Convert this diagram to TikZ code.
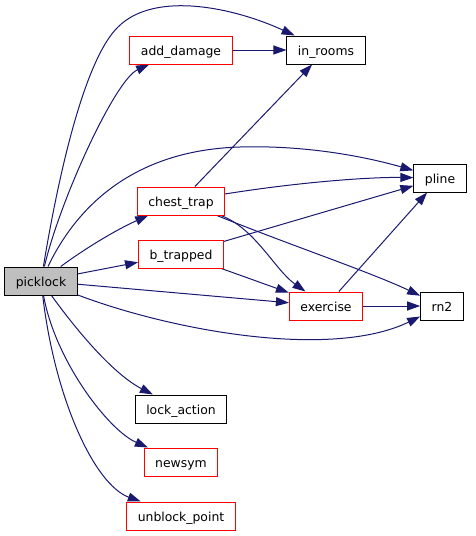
\documentclass[tikz,border=0pt]{standalone}
\usepackage{fontspec}
\setmainfont{DejaVu Sans}
\usepackage{xcolor}
\usetikzlibrary{arrows.meta, backgrounds}
\definecolor{edgeblue}{HTML}{191970}
\definecolor{nodegray}{HTML}{BFBFBF}
\definecolor{borderred}{HTML}{FF0000}

\begin{document}
\begin{tikzpicture}[x=1pt, y=-1pt,
    fn/.style={rectangle, draw=black, fill=white, line width=1pt, minimum height=28pt,
        inner xsep=11pt, inner ysep=0pt, text height=10pt, text depth=0pt,
        font=\fontsize{12.4}{14}\selectfont},
    fnred/.style={fn, draw=borderred},
    call/.style={draw=edgeblue, line width=1pt, -{Triangle[length=13pt, width=9pt]}}]
    \useasboundingbox (0,0) rectangle (475,536);

    \node[fn, fill=nodegray] (picklock) at (41,281) {picklock};
    \node[fnred] (add_damage) at (181,50) {add\_damage};
    \node[fn] (in_rooms) at (326,50) {in\_rooms};
    \node[fn] (pline) at (440,178) {pline};
    \node[fnred] (chest_trap) at (181,201) {chest\_trap};
    \node[fnred] (b_trapped) at (181,254) {b\_trapped};
    \node[fnred] (exercise) at (326,306) {exercise};
    \node[fn] (rn2) at (442,306) {rn2};
    \node[fn] (lock_action) at (181,409) {lock\_action};
    \node[fnred] (newsym) at (181,462) {newsym};
    \node[fnred] (unblock_point) at (181,516) {unblock\_point};

    \begin{scope}[on background layer]
    \draw[call] (picklock) .. controls (56,190) and (82,62) .. (118,27)
        .. controls (155,-10) and (235,8) .. (in_rooms);
    \draw[call] (picklock) .. controls (60,200) and (115,80) .. (add_damage);
    \draw[call] (picklock) .. controls (80,200) and (140,150) .. (240,147)
        .. controls (310,145) and (370,158) .. (pline);
    \draw[call] (picklock) .. controls (90,245) and (120,228) .. (chest_trap);
    \draw[call] (picklock) -- (b_trapped);
    \draw[call] (picklock) -- (exercise);
    \draw[call] (picklock) .. controls (170,330) and (330,360) .. (rn2);
    \draw[call] (picklock) .. controls (80,335) and (115,375) .. (lock_action);
    \draw[call] (picklock) .. controls (55,360) and (108,430) .. (newsym);
    \draw[call] (picklock) .. controls (55,400) and (95,485) .. (unblock_point);

    \draw[call] (add_damage) -- (in_rooms);
    \draw[call] (chest_trap) -- (in_rooms);
    \draw[call] (chest_trap) .. controls (300,182) and (370,177) .. (pline);
    \draw[call] (chest_trap) .. controls (255,228) and (275,270) .. (exercise);
    \draw[call] (chest_trap) .. controls (290,245) and (370,272) .. (rn2);
    \draw[call] (b_trapped) -- (pline);
    \draw[call] (b_trapped) -- (exercise);
    \draw[call] (exercise) -- (pline);
    \draw[call] (exercise) -- (rn2);
    \end{scope}
\end{tikzpicture}
\end{document}
